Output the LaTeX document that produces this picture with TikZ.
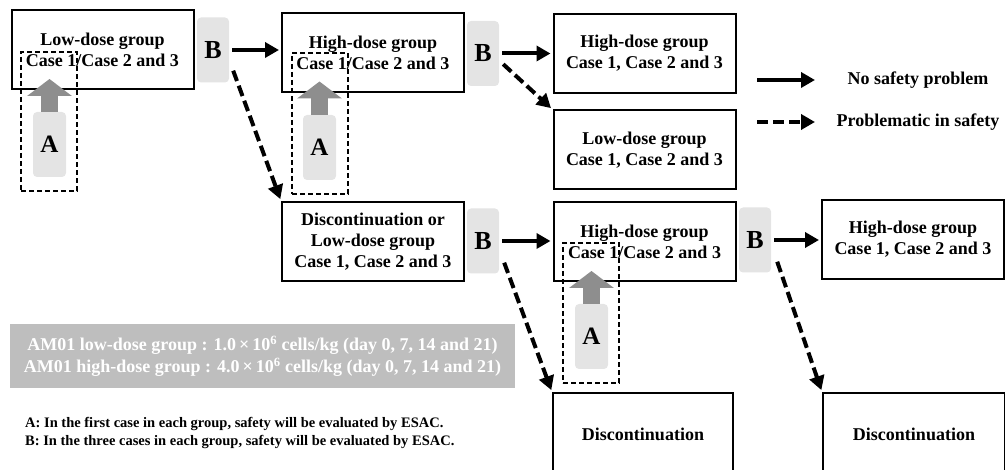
\documentclass[tikz,border=0pt]{standalone}
\usepackage{fontspec}
\setmainfont{Liberation Serif}
\usetikzlibrary{arrows.meta}
\definecolor{evalgrey}{HTML}{E4E4E4}
\definecolor{upgrey}{HTML}{8E8E8E}
\definecolor{notegrey}{HTML}{BEBEBE}
\begin{document}
\begin{tikzpicture}[x=1pt,y=-1pt,
  group/.style={draw, line width=2pt, fill=white, minimum width=182pt, minimum height=79pt, inner sep=0pt, align=center, font=\fontsize{18}{21}\selectfont\bfseries},
  evalB/.style={fill=evalgrey, rounded corners=4pt, minimum width=32pt, minimum height=65pt, inner sep=0pt, font=\fontsize{26}{26}\selectfont\bfseries},
  evalA/.style={evalB, minimum width=33pt, font=\fontsize{25}{25}\selectfont\bfseries},
  firstcase/.style={draw, line width=1.1pt, dash pattern=on 5pt off 3pt, minimum width=56pt, minimum height=140pt, inner sep=0pt},
  ok/.style={line width=4pt, -{Triangle[length=14pt,width=15pt]}, shorten >=2pt},
  risk/.style={ok, dash pattern=on 11pt off 5pt},
  upward/.style={upgrey, line width=17pt, -{Triangle[length=17pt,width=44pt]}},
  keytext/.style={font=\fontsize{18}{21}\selectfont\bfseries}]
\useasboundingbox (0,0) rectangle (1005,470);
\clip (0,0) rectangle (1005,470);
\node[group] (low1) at (102.5,49.5) {Low-dose group\\Case 1/Case 2 and 3};
\node[group] (high1) at (373,53) {High-dose group\\Case 1/Case 2 and 3};
\node[group] (high2) at (644.5,53.5) {High-dose group\\Case 1, Case 2 and 3};
\node[group] (low2) at (644.5,150) {Low-dose group\\Case 1, Case 2 and 3};
\node[group] (back) at (373,241.5) {Discontinuation or\\Low-dose group\\Case 1, Case 2 and 3};
\node[group] (high3) at (644.5,241.5) {High-dose group\\Case 1/Case 2 and 3};
\node[group] (high4) at (913,239.5) {High-dose group\\Case 1, Case 2 and 3};
\node[group, minimum width=180pt, minimum height=82pt] (stop1) at (643,434) {Discontinuation};
\node[group, minimum height=82pt] (stop2) at (914,434) {Discontinuation};
\node[evalB] (b1) at (213,50) {B};
\node[evalB] (b2) at (483,53.5) {B};
\node[evalB] (b3) at (483,241) {B};
\node[evalB] (b4) at (755,240) {B};
\node[evalA] (a1) at (49.5,144.5) {A};
\node[evalA] (a2) at (319.5,147.5) {A};
\node[evalA] (a3) at (591.5,336.5) {A};
\node[firstcase, minimum height=139pt] (f1) at (49,121.5) {};
\node[firstcase, minimum height=141pt] (f2) at (320,123.5) {};
\node[firstcase] (f3) at (591,313) {};
\draw[upward] (a1.north) -- ([yshift=11pt]a1.north |- low1.south);
\draw[upward] (a2.north) -- ([yshift=12pt]a2.north |- high1.south);
\draw[upward] (a3.north) -- ([yshift=11pt]a3.north |- high3.south);
\draw[ok, shorten <=3pt] (b1.east) -- (b1.east -| high1.west);
\draw[ok, shorten <=3pt] (b2.east) -- (b2.east -| high2.west);
\draw[ok, shorten <=3pt] (b3.east) -- (b3.east -| high3.west);
\draw[ok, shorten <=3pt] (b4.east) -- (b4.east -| high4.west);
\draw[risk] ([xshift=4pt,yshift=12pt]b1.south east) -- (back.north west);
\draw[risk] ([xshift=4pt,yshift=22pt]b2.south east) -- (low2.north west);
\draw[risk] ([xshift=5pt,yshift=11pt]b3.south east) -- (stop1.north west);
\draw[risk] ([xshift=6pt,yshift=11pt]b4.south east) -- (stop2.north west);
\coordinate (okFrom) at (757,80);
\coordinate (okTo) at (817,80);
\coordinate (riskFrom) at (757,122);
\coordinate (riskTo) at (817,122);
\draw[ok] (okFrom) -- (okTo);
\draw[risk] (riskFrom) -- (riskTo);
\node[keytext] (okKey) at (918,80) {No safety problem};
\node[keytext] (riskKey) at (918,122) {Problematic in safety};
\node[fill=notegrey, text=white, minimum width=505pt, minimum height=64pt, inner sep=0pt, align=center, font=\fontsize{18}{22}\selectfont\bfseries] (dose) at (262.5,356) {AM01 low-dose group : 1.0\,×\,10\textsuperscript{6} cells/kg (day 0, 7, 14 and 21)\\AM01 high-dose group : 4.0\,×\,10\textsuperscript{6} cells/kg (day 0, 7, 14 and 21)};
\node[anchor=west, align=left, inner sep=0pt, font=\fontsize{14.5}{18}\selectfont\bfseries] (notes) at (25,433) {A: In the first case in each group, safety will be evaluated by ESAC.\\B: In the three cases in each group, safety will be evaluated by ESAC.};
\end{tikzpicture}
\end{document}
